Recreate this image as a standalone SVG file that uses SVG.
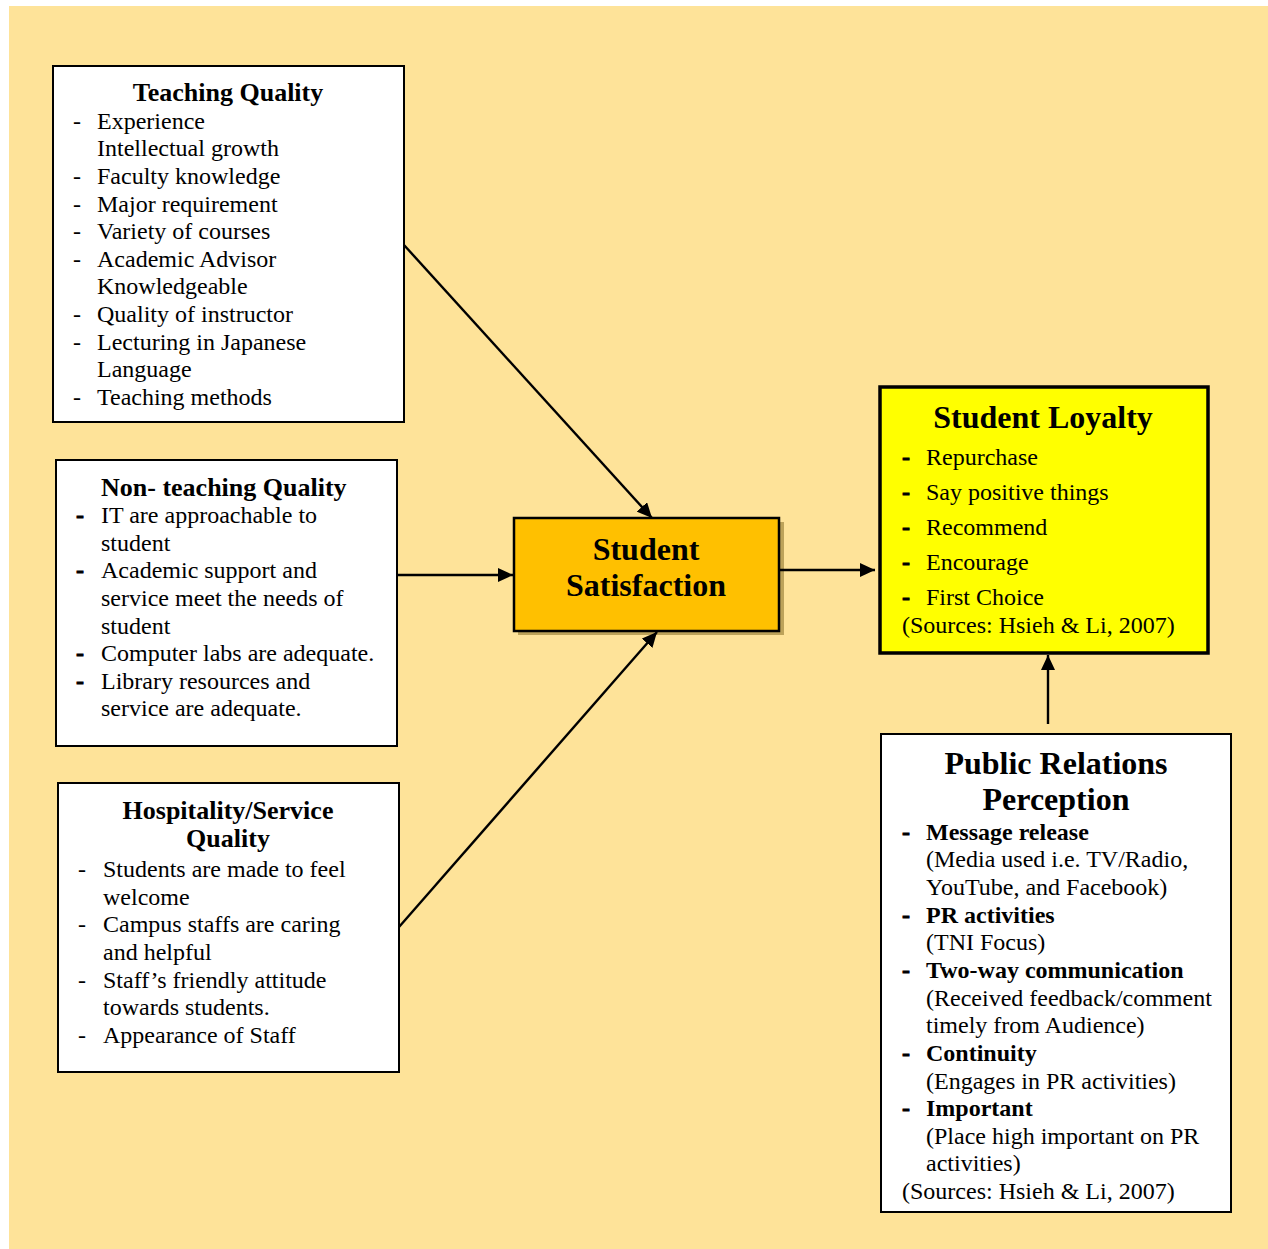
<svg xmlns="http://www.w3.org/2000/svg" width="1268" height="1249" viewBox="0 0 1268 1249">
  <defs>
    <style>
      .box { fill: #ffffff; stroke: #000000; stroke-width: 2; }
      .t { font-family: "Liberation Serif", "Times New Roman", serif; font-size: 24px; fill: #000000; }
      .b { font-weight: bold; }
      .dash { font-weight: bold; stroke: #000000; stroke-width: 0.8; }
      .h26 { font-family: "Liberation Serif", "Times New Roman", serif; font-size: 26px; font-weight: bold; fill: #000000; }
      .h32 { font-family: "Liberation Serif", "Times New Roman", serif; font-size: 32px; font-weight: bold; fill: #000000; }
      .mid { text-anchor: middle; }
      .link { stroke: #000000; stroke-width: 2.4; fill: none; marker-end: url(#arrow); }
    </style>
    <marker id="arrow" markerUnits="userSpaceOnUse" markerWidth="16" markerHeight="14" refX="15" refY="7" orient="auto">
      <path d="M0,0 L15,7 L0,14 Z" fill="#000000"/>
    </marker>
  </defs>

  <!-- page background -->
  <rect x="0" y="0" width="1268" height="1249" fill="#ffffff"/>
  <rect x="9" y="6" width="1259" height="1243" fill="#fee399"/>

  <!-- Teaching Quality -->
  <g id="teaching-quality">
    <rect class="box" x="53" y="66" width="351" height="356"/>
    <text class="h26 mid" x="228" y="101">Teaching Quality</text>
    <g class="t">
      <text x="73" y="129">-</text><text x="97" y="129">Experience</text>
      <text x="97" y="156">Intellectual growth</text>
      <text x="73" y="184">-</text><text x="97" y="184">Faculty knowledge</text>
      <text x="73" y="212">-</text><text x="97" y="212">Major requirement</text>
      <text x="73" y="239">-</text><text x="97" y="239">Variety of courses</text>
      <text x="73" y="267">-</text><text x="97" y="267">Academic Advisor</text>
      <text x="97" y="294">Knowledgeable</text>
      <text x="73" y="322">-</text><text x="97" y="322">Quality of instructor</text>
      <text x="73" y="350">-</text><text x="97" y="350">Lecturing in Japanese</text>
      <text x="97" y="377">Language</text>
      <text x="73" y="405">-</text><text x="97" y="405">Teaching methods</text>
    </g>
  </g>

  <!-- Non-teaching Quality -->
  <g id="non-teaching-quality">
    <rect class="box" x="56" y="460" width="341" height="286"/>
    <text class="h26" x="101" y="496">Non- teaching Quality</text>
    <g class="t">
      <text class="dash" x="76" y="523">-</text><text x="101" y="523">IT are approachable to</text>
      <text x="101" y="551">student</text>
      <text class="dash" x="76" y="578">-</text><text x="101" y="578">Academic support and</text>
      <text x="101" y="606">service meet the needs of</text>
      <text x="101" y="634">student</text>
      <text class="dash" x="76" y="661">-</text><text x="101" y="661">Computer labs are adequate.</text>
      <text class="dash" x="76" y="689">-</text><text x="101" y="689">Library resources and</text>
      <text x="101" y="716">service are adequate.</text>
    </g>
  </g>

  <!-- Hospitality/Service Quality -->
  <g id="hospitality-quality">
    <rect class="box" x="58" y="783" width="341" height="289"/>
    <text class="h26 mid" x="228" y="819">Hospitality/Service</text>
    <text class="h26 mid" x="228" y="847">Quality</text>
    <g class="t">
      <text x="78" y="877">-</text><text x="103" y="877">Students are made to feel</text>
      <text x="103" y="905">welcome</text>
      <text x="78" y="932">-</text><text x="103" y="932">Campus staffs are caring</text>
      <text x="103" y="960">and helpful</text>
      <text x="78" y="988">-</text><text x="103" y="988">Staff’s friendly attitude</text>
      <text x="103" y="1015">towards students.</text>
      <text x="78" y="1043">-</text><text x="103" y="1043">Appearance of Staff</text>
    </g>
  </g>

  <!-- Student Satisfaction -->
  <g id="student-satisfaction">
    <rect x="518" y="522" width="266" height="113" fill="#bda35a"/>
    <rect x="514" y="518" width="265" height="113" fill="#ffc000" stroke="#000000" stroke-width="2.5"/>
    <text class="h32 mid" x="646" y="560">Student</text>
    <text class="h32 mid" x="646" y="596">Satisfaction</text>
  </g>

  <!-- Student Loyalty -->
  <g id="student-loyalty">
    <rect x="880" y="387" width="328" height="266" fill="#ffff00" stroke="#000000" stroke-width="3.5"/>
    <text class="h32 mid" x="1043" y="428">Student Loyalty</text>
    <g class="t">
      <text class="dash" x="902" y="465">-</text><text x="926" y="465">Repurchase</text>
      <text class="dash" x="902" y="500">-</text><text x="926" y="500">Say positive things</text>
      <text class="dash" x="902" y="535">-</text><text x="926" y="535">Recommend</text>
      <text class="dash" x="902" y="570">-</text><text x="926" y="570">Encourage</text>
      <text class="dash" x="902" y="605">-</text><text x="926" y="605">First Choice</text>
      <text x="902" y="633">(Sources: Hsieh &amp; Li, 2007)</text>
    </g>
  </g>

  <!-- Public Relations Perception -->
  <g id="public-relations">
    <rect class="box" x="881" y="734" width="350" height="478"/>
    <text class="h32 mid" x="1056" y="774">Public Relations</text>
    <text class="h32 mid" x="1056" y="810">Perception</text>
    <g class="t">
      <text class="dash" x="902" y="840">-</text><text class="b" x="926" y="840">Message release</text>
      <text x="926" y="867">(Media used i.e. TV/Radio,</text>
      <text x="926" y="895">YouTube, and Facebook)</text>
      <text class="dash" x="902" y="923">-</text><text class="b" x="926" y="923">PR activities</text>
      <text x="926" y="950">(TNI Focus)</text>
      <text class="dash" x="902" y="978">-</text><text class="b" x="926" y="978">Two-way communication</text>
      <text x="926" y="1006">(Received feedback/comment</text>
      <text x="926" y="1033">timely from Audience)</text>
      <text class="dash" x="902" y="1061">-</text><text class="b" x="926" y="1061">Continuity</text>
      <text x="926" y="1089">(Engages in PR activities)</text>
      <text class="dash" x="902" y="1116">-</text><text class="b" x="926" y="1116">Important</text>
      <text x="926" y="1144">(Place high important on PR</text>
      <text x="926" y="1171">activities)</text>
      <text x="902" y="1199">(Sources: Hsieh &amp; Li, 2007)</text>
    </g>
  </g>

  <!-- connectors, drawn over the box edges -->
  <g id="connectors">
    <line class="link" x1="404" y1="245" x2="652" y2="518"/>
    <line class="link" x1="398" y1="575" x2="513" y2="575"/>
    <line class="link" x1="399" y1="927" x2="657" y2="632"/>
    <line class="link" x1="780" y1="570" x2="875" y2="570"/>
    <line class="link" x1="1048" y1="724" x2="1048" y2="655"/>
  </g>
</svg>
